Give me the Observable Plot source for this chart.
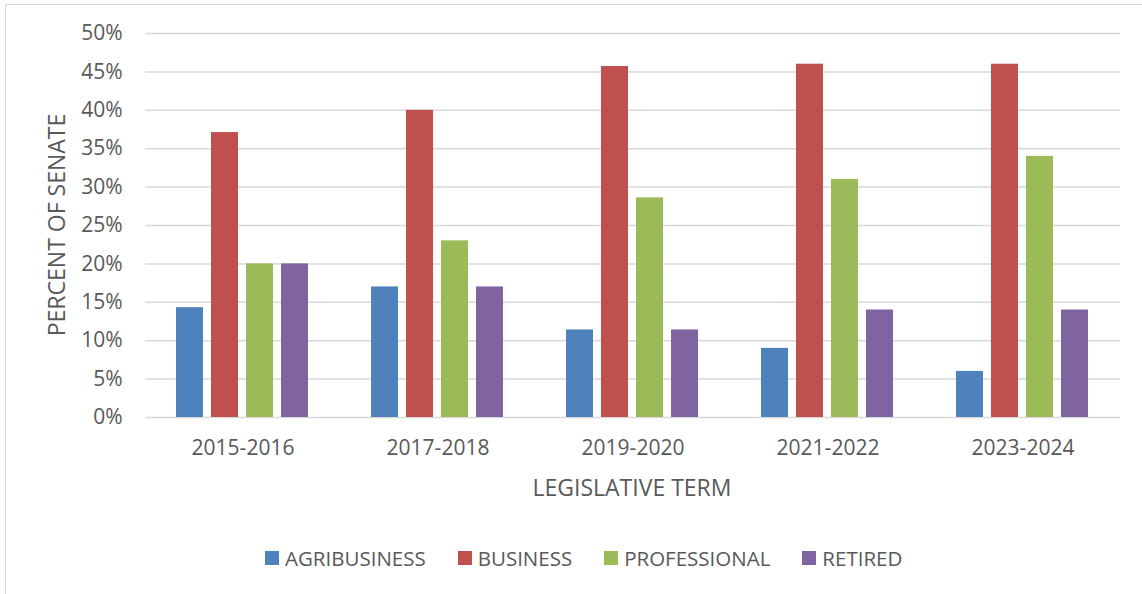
<!DOCTYPE html>
<html><head><meta charset="utf-8">
<script src="https://cdn.jsdelivr.net/npm/d3@7"></script>
<script src="https://cdn.jsdelivr.net/npm/@observablehq/plot@0.6"></script>
<style>
html,body{margin:0;padding:0;background:#fff;}
#wrap{position:relative;width:1142px;height:594px;overflow:hidden;font-family:"Open Sans",sans-serif;color:#595959;}
#frame{position:absolute;left:4.5px;top:3.5px;width:1300px;height:800px;border:1.5px solid #d9d9d9;box-sizing:border-box;}
#chart{position:absolute;left:0;top:0;}
.title{position:absolute;font-size:23px;line-height:1;white-space:nowrap;color:#595959;}
#ytitle{left:56px;top:225px;transform:translate(-50%,-50%) rotate(-90deg);}
#xtitle{left:632px;top:487px;transform:translate(-50%,-50%);}
#legend{position:absolute;left:265px;top:543px;}
.lg-swatches{display:flex;align-items:center;font-family:"Open Sans",sans-serif;font-size:20.5px;color:#595959;height:30px;min-height:0 !important;}
.lg-swatch{margin-right:32px !important;}
.lg-swatch > svg{margin-right:6px !important;}
</style></head>
<body><div id="wrap"><div id="frame"></div><div id="chart"></div>
<div class="title" id="ytitle">PERCENT OF SENATE</div>
<div class="title" id="xtitle">LEGISLATIVE TERM</div>
<div id="legend"></div></div>
<script>
const terms = ["2015-2016", "2017-2018", "2019-2020", "2021-2022", "2023-2024"];
const series = ["AGRIBUSINESS", "BUSINESS", "PROFESSIONAL", "RETIRED"];
const agribusiness = [14.3, 17, 11.4, 9, 6];
const business = [37.1, 40, 45.7, 46, 46];
const professional = [20, 23, 28.6, 31, 34];
const retired = [20, 17, 11.4, 14, 14];
const yTicks = [0, 5, 10, 15, 20, 25, 30, 35, 40, 45, 50];
const colors = ["#4F81BD", "#C0504D", "#9BBB59", "#8064A2"];

const values = [agribusiness, business, professional, retired];
const data = terms.flatMap((t, i) => series.map((s, j) => ({term: t, series: s, value: values[j][i]})));

const plot = Plot.plot({
  width: 1142, height: 520,
  marginTop: 33, marginBottom: 103, marginLeft: 144, marginRight: 22,
  style: {fontFamily: '"Open Sans", sans-serif', fontSize: "21px", color: "#595959", background: "transparent", overflow: "visible"},
  fx: {domain: terms, padding: 0, label: null, tickSize: 0, tickPadding: 23},
  x: {domain: series, paddingInner: 0.216, paddingOuter: 0.842, axis: null},
  y: {domain: [0, 50], ticks: yTicks, tickFormat: d => d + "%", label: null, tickSize: 0, tickPadding: 23},
  color: {domain: series, range: colors},
  marks: [
    Plot.gridY(yTicks, {stroke: "#d9d9d9", strokeOpacity: 1, strokeWidth: 1.5}),
    Plot.barY(data, {fx: "term", x: "series", y: "value", fill: "series"})
  ]
});
document.getElementById("chart").appendChild(plot);
document.getElementById("legend").appendChild(plot.legend("color", {swatchSize: 14, className: "lg"}));
</script>
</body></html>
